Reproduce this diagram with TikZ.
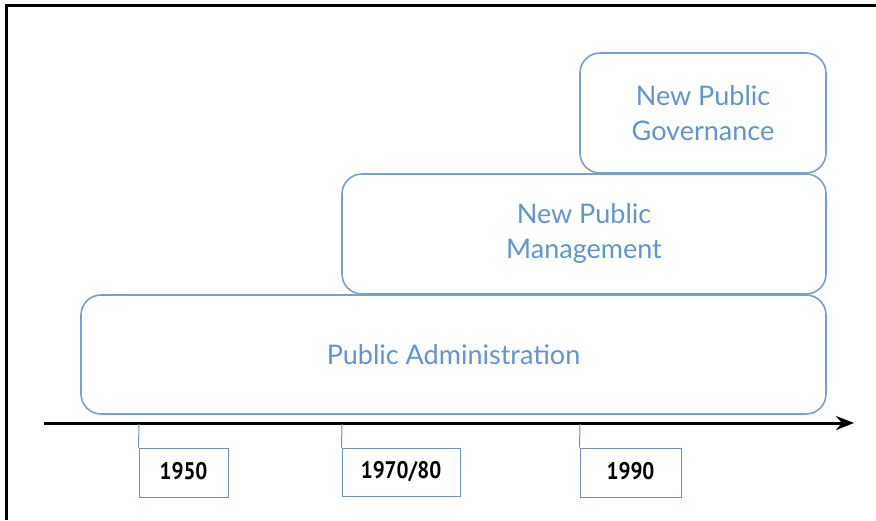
\documentclass[tikz,border=0pt]{standalone}
\usepackage{fontspec}
\setmainfont{Lato}
\newfontfamily\yearfont[FakeStretch=0.88]{PT Sans}
\usepackage{tikz}
\usetikzlibrary{positioning,arrows.meta}
\definecolor{stageblue}{RGB}{120,160,205}
\definecolor{stagetext}{RGB}{95,150,210}
\definecolor{yearline}{RGB}{115,145,185}

\begin{document}
\begin{tikzpicture}[x=0.5pt,y=-0.5pt,
stage/.style={draw=stageblue,line width=0.8pt,rounded corners=10pt,fill=white,
  text=stagetext,align=center,font=\fontsize{13.5}{17.5}\selectfont},
yearbox/.style={draw=yearline,line width=0.5pt,inner sep=0pt,
  font=\yearfont\bfseries\fontsize{12}{12}\selectfont},
axis/.style={line width=1.5pt,-{Stealth[length=9pt,width=7pt]}},
tick/.style={draw=yearline,line width=0.5pt}]
\useasboundingbox (0,0) rectangle (876,520);

% frame
\draw[line width=1.5pt] (6,520) -- (6,5) -- (876,5);

% stages
\node[stage,minimum width=372.5pt,minimum height=59.5pt] (pa) at (453.5,354.5) {Public Administration};
\node[stage,minimum width=242pt,minimum height=60pt] (npm) at (584,234) {New Public\\Management};
\node[stage,minimum width=123pt,minimum height=60pt] (npg) at (703,113) {New Public\\Governance};

% time axis
\coordinate (axisstart) at (44,423);
\coordinate (axisend) at (854,423);
\draw[axis] (axisstart) -- (axisend);

% years
\node[yearbox,minimum width=44.5pt,minimum height=24.5pt] (y1950) at (183.5,472.5) {1950\vphantom{/}};
\node[yearbox,minimum width=59pt,minimum height=24pt] (y1970) at (401,472) {1970/80};
\node[yearbox,minimum width=50.5pt,minimum height=24.5pt] (y1990) at (630.5,472.5) {1990\vphantom{/}};

\coordinate (t1950) at (139,424);
\coordinate (t1970) at (342,424);
\coordinate (t1990) at (580,424);
\draw[tick] (t1950) -- (y1950.north west);
\draw[tick] (t1970) -- (y1970.north west);
\draw[tick] (t1990) -- (y1990.north west);
\end{tikzpicture}
\end{document}
